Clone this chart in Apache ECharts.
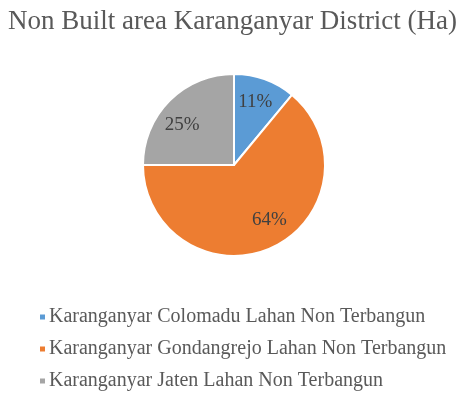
<!DOCTYPE html>
<html><head><meta charset="utf-8">
<script src="https://cdn.jsdelivr.net/npm/echarts@6/dist/echarts.min.js"></script>
<style>html,body{margin:0;padding:0;background:#fff}#c{width:473px;height:396px}</style>
</head><body><div id="c"></div>
<script>
const titleText = 'Non Built area Karanganyar District (Ha)';
const categories = ['Karanganyar Colomadu Lahan Non Terbangun','Karanganyar Gondangrejo Lahan Non Terbangun','Karanganyar Jaten Lahan Non Terbangun'];
const values = [11, 64, 25];
const colors = ['#5B9BD5', '#ED7D31', '#A5A5A5'];

const data = categories.map((n, i) => ({ name: n, value: values[i] }));
const chart = echarts.init(document.getElementById('c'), null, { renderer: 'canvas' });
const font = 'Liberation Serif';
const labelShift = [[-2, 2], [6, -7], [-3, 9]];
chart.setOption({
  animation: false,
  color: colors,
  title: { text: titleText, left: 3, top: 3, textStyle: { fontFamily: font, fontSize: 27, fontWeight: 'normal', color: '#595959' } },
  legend: {
    orient: 'vertical', left: 33, top: 302, itemWidth: 7, itemHeight: 7, itemGap: 12, icon: 'rect',
    data: categories,
    textStyle: { fontFamily: font, fontSize: 20, color: '#595959', padding: [0, 0, 0, -2] }
  },
  series: [
    {
      type: 'pie', center: [234, 165], radius: 91, startAngle: 90, clockwise: true, data: data,
      itemStyle: { borderColor: '#fff', borderWidth: 2 },
      label: { show: false }, labelLine: { show: false }, emphasis: { disabled: true }, silent: true
    },
    {
      type: 'pie', center: [234, 165], radius: 132, startAngle: 90, clockwise: true, data: data,
      itemStyle: { color: 'rgba(0,0,0,0)' },
      label: { show: true, position: 'inside', formatter: '{d}%', fontFamily: font, fontSize: 19, color: '#404040' },
      labelLayout: function (p) { const s = labelShift[p.dataIndex]; return { dx: s[0], dy: s[1] }; },
      labelLine: { show: false }, emphasis: { disabled: true }, silent: true, z: 3
    }
  ]
});
</script></body></html>
